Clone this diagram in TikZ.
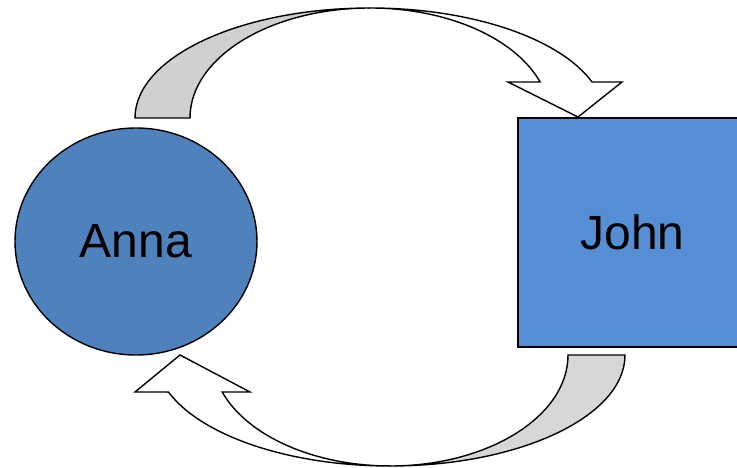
\documentclass[tikz,border=0pt]{standalone}
\usepackage{fontspec}
\setmainfont{Liberation Sans}
\usetikzlibrary{shapes.geometric}
\definecolor{annablue}{HTML}{4F81BD}
\definecolor{johnblue}{HTML}{558ED5}
\definecolor{backgrey}{HTML}{D0D0D0}
\begin{document}
\begin{tikzpicture}[x=1pt,y=-1pt,
  person/.style={draw=black,line width=1.4pt,inner sep=0pt,text=black,font=\fontsize{48}{52}\selectfont},
  band/.style={draw=black,line width=1.4pt,line join=miter},
  back/.style={band,fill=backgrey},
  front/.style={band,fill=white}]
\useasboundingbox (0,0) rectangle (737,468);
\fill[white] (0,0) rectangle (737,468);
% nodes
\node[person,ellipse,fill=annablue,minimum width=242pt,minimum height=227pt] (anna) at (136,241.5) {Anna};
\node[person,rectangle,fill=johnblue,minimum width=222pt,minimum height=229pt] (john) at (629,232.5) {\hspace*{7pt}John};
% top curved arrow (Anna -> John)
\path[back] (135,118) arc[start angle=180,end angle=270,x radius=235,y radius=110]
  arc[start angle=270,end angle=180,x radius=180,y radius=110] -- cycle;
\path[front] (370,8) arc[start angle=270,end angle=340.9,x radius=235,y radius=110]
  -- (622,82) -- (578,117) -- (508,82) -- (540.1,82)
  arc[start angle=340.9,end angle=270,x radius=180,y radius=110] -- cycle;
% bottom curved arrow (John -> Anna)
\path[back,fill=backgrey!85!white] (625,355) arc[start angle=0,end angle=90,x radius=235,y radius=111]
  arc[start angle=90,end angle=0,x radius=178,y radius=111] -- cycle;
\path[front] (390,466) arc[start angle=90,end angle=160.5,x radius=235,y radius=111]
  -- (135,392) -- (180,355) -- (250,392) -- (222.2,392)
  arc[start angle=160.5,end angle=90,x radius=178,y radius=111] -- cycle;
\end{tikzpicture}
\end{document}
